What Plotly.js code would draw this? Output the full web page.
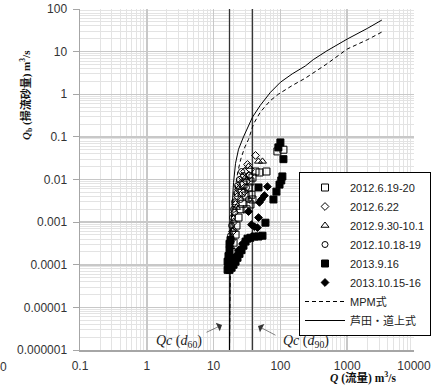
<!DOCTYPE html>
<html><head><meta charset="utf-8">
<script src="https://cdn.plot.ly/plotly-3.0.1.min.js"></script>
<style>html,body{margin:0;padding:0;background:#fff}#chart{width:446px;height:387px}</style>
</head><body><div id="chart"></div>
<script>
// ---- data ----
const seriesNames = ["2012.6.19-20","2012.6.22","2012.9.30-10.1","2012.10.18-19","2013.9.16","2013.10.15-16"];

const q_20120619 = [18.6,19.9,21.3,22.0,23.6,25.3,27.1,30.1,33.3,35.6,38.2,35.6,38.2,42.4,48.6,61.8,28.0,26.2,90.2,111,31.1,36.9];
const qb_20120619 = [0.0002,0.00033,0.00051,0.00083,0.00128,0.002,0.0027,0.0042,0.0065,0.009,0.0111,0.0026,0.0034,0.0154,0.0146,0.0154,0.0076,0.0049,0.0456,0.05,0.002,0.0044];

const q_20120622 = [42.4,32.2,29.0,27.1,25.3,23.6,22.8,21.3,20.6,19.9,19.2,18.6,17.9,17.3,31.1,34.4,29.0,35.6];
const qb_20120622 = [0.0367,0.0225,0.0154,0.0111,0.008,0.0058,0.004,0.0026,0.00167,0.001,0.0006,0.00038,0.00025,0.00016,0.009,0.0124,0.0052,0.0172];

const q_20120930 = [47.0,53.9,33.3,24.4,22.0,19.9,30.1];
const qb_20120930 = [0.0266,0.0266,0.0202,0.0065,0.0022,0.00067,0.0111];

const q_20121018 = [26.2,24.4,22.8,22.0,20.6,19.9,19.2,18.6,17.9,17.3,28.0,31.1,33.3,25.3];
const qb_20121018 = [0.0154,0.01,0.0072,0.0047,0.003,0.002,0.00128,0.00083,0.00048,0.00028,0.0124,0.0065,0.0034,0.0034];

const q_20130916 = [100,93.3,111,107,103,97,87.2,78.7,47.0,59.7,53.9,47.0,40.9,35.6,32.2,30.1,28.0,26.2,24.4,22.8,21.3,19.9,18.6,17.3,16.7,16.2,16.7,17.3,17.3,17.9,16.2,17.9,18.6];
const qb_20130916 = [0.074,0.0566,0.03,0.0118,0.0095,0.0076,0.0052,0.0034,0.0065,0.00097,0.00048,0.00046,0.00046,0.00043,0.00041,0.00035,0.00028,0.00022,0.00018,0.000146,0.000118,0.0001,0.000085,0.000076,0.0000946,0.000118,0.00016,0.00022,0.00031,0.00038,0.000076,0.000146,0.000118];

const q_20131015 = [64.0,57.7,52.0,48.6,47.0,40.9,45.4,36.9,33.3,23.6,27.1,21.3,19.2,31.1];
const qb_20131015 = [0.0068,0.0042,0.0034,0.0029,0.00128,0.00078,0.00074,0.00087,0.00177,0.00022,0.00031,0.00016,0.000118,0.00038];

// MPM formula curve
const q_mpm  = [17.3,17.5,17.8,18.4,19.5,21,23,25.5,29,33.3,39.5,50,70,93,150,236,311,500,1000,2000,3300];
const qb_mpm = [0.000001,0.00001,0.0001,0.0005,0.002,0.006,0.015,0.03,0.055,0.087,0.2,0.38,0.7,1.0,1.6,2.38,3.2,5.2,11.5,19,28.8];

// Ashida-Michiue formula curve
const q_am  = [17.3,17.4,17.5,17.9,18.9,19.9,21.3,23.6,28,33,38.2,50,71,100,150,236,311,500,1000,2000,3300];
const qb_am = [0.000001,0.00001,0.0001,0.00057,0.0022,0.0085,0.024,0.051,0.1,0.18,0.29,0.55,1.11,1.91,3.0,4.6,6.5,10.5,19.7,35,55];

const qcValues = [17.3, 38];   // Qc(d60), Qc(d90)

const xTickVals = [0.1,1,10,100,1000,10000];
const xTickText = ["0.1","1","10","100","1000","10000"];
const yTickVals = [1e-6,1e-5,1e-4,1e-3,1e-2,0.1,1,10,100];
const yTickText = ["0.000001","0.00001","0.0001","0.001","0.01","0.1","1","10","100"];

// ---- traces ----
const mk = (name, x, y, symbol, size) => ({
  type:'scatter', mode:'markers', name, x, y,
  marker:{symbol, size, color:'#000', line:{color:'#000', width:1}}
});
const traces = [
  {type:'scatter', mode:'lines', x:[qcValues[0],qcValues[0]], y:[1e-6,100], line:{color:'#333', width:1.3}, showlegend:false, hoverinfo:'skip'},
  {type:'scatter', mode:'lines', x:[qcValues[1],qcValues[1]], y:[1e-6,100], line:{color:'#333', width:1.3}, showlegend:false, hoverinfo:'skip'},
  mk(seriesNames[0], q_20120619, qb_20120619, 'square-open', 7),
  mk(seriesNames[1], q_20120622, qb_20120622, 'diamond-open', 6),
  mk(seriesNames[2], q_20120930, qb_20120930, 'triangle-up-open', 7),
  mk(seriesNames[3], q_20121018, qb_20121018, 'circle-open', 6),
  mk(seriesNames[4], q_20130916, qb_20130916, 'square', 7),
  mk(seriesNames[5], q_20131015, qb_20131015, 'diamond', 6),
  {type:'scatter', mode:'lines', name:'MPM式', x:q_mpm, y:qb_mpm, line:{color:'#000', width:1, dash:'4px,3px'}},
  {type:'scatter', mode:'lines', name:'芦田・道上式', x:q_am, y:qb_am, line:{color:'#000', width:1}}
];

const gridMinor = {dtick:'D1', showgrid:true, gridcolor:'#e3e3e3', gridwidth:1, ticks:''};
const layout = {
  width:446, height:387,
  margin:{l:80, r:32, t:9, b:37},
  paper_bgcolor:'#fff', plot_bgcolor:'#fff',
  showlegend:true,
  font:{family:'Liberation Sans, Arial, sans-serif', size:12, color:'#404040'},
  xaxis:{type:'log', range:[-1,4], tickmode:'array', tickvals:xTickVals, ticktext:xTickText,
    showgrid:true, gridcolor:'#c8c8c8', gridwidth:1.5, minor:gridMinor,
    showline:true, linecolor:'#a6a6a6', linewidth:2, ticks:'', ticklabelstandoff:4,
    tickfont:{size:12, color:'#333'}, zeroline:false},
  yaxis:{type:'log', range:[-6,2], tickmode:'array', tickvals:yTickVals, ticktext:yTickText,
    showgrid:true, gridcolor:'#c8c8c8', gridwidth:1.5, minor:gridMinor,
    showline:true, linecolor:'#a6a6a6', linewidth:1.5, ticks:'outside', ticklen:6, tickcolor:'#a6a6a6',
    ticklabelstandoff:3, tickfont:{size:12, color:'#333'}, zeroline:false},
  legend:{x:(299-80)/334, xanchor:'left', y:(350-172)/341, yanchor:'top', itemwidth:40,
    bgcolor:'#fff', bordercolor:'#000', borderwidth:1, tracegroupgap:0,
    font:{family:'Liberation Sans, Noto Sans CJK JP, sans-serif', size:11, color:'#222'}},
  annotations:[
    {xref:'paper', yref:'paper', x:(26-80)/334, y:(350-95)/341, xanchor:'center', yanchor:'middle', textangle:-90, showarrow:false,
      text:'<b><i>Q</i><sub>b</sub></b> <b>(掃流砂量)</b> <b>m<sup>3</sup>/s</b>',
      font:{family:'Liberation Serif, Noto Sans CJK JP, serif', size:11, color:'#111'}},
    {xref:'paper', yref:'paper', x:(363-80)/334, y:(350-387)/341, xanchor:'center', yanchor:'bottom', showarrow:false,
      text:'<b><i>Q</i></b> <b>(流量)</b> <b>m<sup>3</sup>/s</b>',
      font:{family:'Liberation Serif, Noto Sans CJK JP, serif', size:11.5, color:'#111'}},
    {xref:'paper', yref:'paper', x:(3-80)/334, y:(350-367)/341, xanchor:'center', yanchor:'middle', showarrow:false, text:'0',
      font:{size:12, color:'#333'}},
    {xref:'paper', yref:'paper', x:(179-80)/334, y:(350-341)/341, xanchor:'center', yanchor:'middle', showarrow:false,
      text:'<i>Qc</i> (<i>d</i><sub>60</sub>)', font:{family:'Liberation Serif, serif', size:14, color:'#222'}},
    {xref:'paper', yref:'paper', x:(306-80)/334, y:(350-341)/341, xanchor:'center', yanchor:'middle', showarrow:false,
      text:'<i>Qc</i> (<i>d</i><sub>90</sub>)', font:{family:'Liberation Serif, serif', size:14, color:'#222'}},
    {xref:'paper', yref:'paper', x:(222-80)/334, y:(350-325)/341, ax:-17, ay:8, text:'', showarrow:true,
      arrowhead:1, arrowsize:2.6, arrowwidth:0.6, arrowcolor:'#333'},
    {xref:'paper', yref:'paper', x:(258-80)/334, y:(350-326)/341, ax:19, ay:10, text:'', showarrow:true,
      arrowhead:1, arrowsize:2.6, arrowwidth:0.6, arrowcolor:'#333'}
  ]
};
Plotly.newPlot('chart', traces, layout, {staticPlot:true, displayModeBar:false});
</script></body></html>
